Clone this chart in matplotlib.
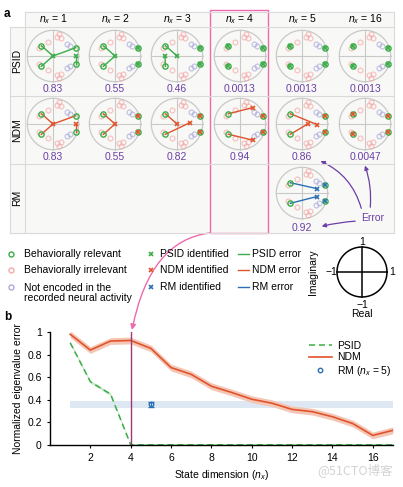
import numpy as np
import matplotlib.pyplot as plt
from matplotlib.patches import Rectangle, FancyArrowPatch
from matplotlib.path import Path
from matplotlib.lines import Line2D

plt.rcParams['font.family'] = ['Liberation Sans', 'DejaVu Sans']
plt.rcParams['mathtext.fontset'] = 'custom'
plt.rcParams['mathtext.rm'] = 'Liberation Sans'
plt.rcParams['mathtext.it'] = 'Liberation Sans:italic'

# ---- data: panel a ----
nx_cols = [1, 2, 3, 4, 5, 16]
psid_err = ['0.83', '0.55', '0.46', '0.0013', '0.0013', '0.0013']
ndm_err = ['0.83', '0.55', '0.82', '0.94', '0.86', '0.0047']
rm_err = '0.92'

relevant = [-0.45 + 0.40j, -0.45 - 0.40j, 0.88 + 0.32j, 0.88 - 0.32j]
irrelevant_top = [0.14 + 0.75j, 0.30 + 0.70j, 0.24 + 0.84j, -0.20 + 0.55j, -0.55 + 0.33j]
not_encoded_top = [0.56 + 0.47j, 0.65 + 0.38j]

# identified eigenvalues and, for each relevant eigenvalue, index of its match
psid_ids = [[0j, 0.88 + 0j], [0j, 0.88 + 0.32j, 0.88 - 0.32j],
            [-0.47 + 0j, 0j, 0.88 + 0.32j, 0.88 - 0.32j],
            relevant, relevant, relevant]
psid_match = [[0, 0, 0, 1], [0, 0, 1, 2], [1, 0, 2, 3],
              [0, 1, 2, 3], [0, 1, 2, 3], [0, 1, 2, 3]]
ndm_ids = [[0j, 0.88 + 0j], [0j, 0.88 + 0.32j, 0.88 - 0.32j],
           [0j, 0.50 + 0.05j, 0.88 + 0.32j, 0.88 - 0.32j],
           [0.50 + 0.64j, 0.50 - 0.63j, 0.88 + 0.32j, 0.88 - 0.32j],
           [0.58 - 0.02j, 0.22 + 0j, 0.88 + 0.32j, 0.88 - 0.32j],
           relevant]
ndm_match = [[0, 0, 0, 1], [0, 0, 1, 2], [0, 1, 2, 3],
             [0, 1, 2, 3], [0, 1, 2, 3], [0, 1, 2, 3]]
rm_ids = [0.58 + 0.17j, 0.57 - 0.14j, 0.88 + 0.32j, 0.88 - 0.32j]
rm_match = [0, 1, 2, 3]

# ---- data: panel b ----
state_dim = np.arange(1, 18)
ndm_curve = [0.98, 0.84, 0.92, 0.925, 0.855, 0.685, 0.625, 0.52, 0.465, 0.405,
             0.37, 0.315, 0.295, 0.25, 0.19, 0.085, 0.13]
psid_curve = [0.905, 0.56, 0.45, 0.0013, 0.0013, 0.0013, 0.0013, 0.0013, 0.0013,
              0.0013, 0.0013, 0.0013, 0.0013, 0.0013, 0.0013, 0.0013, 0.0013]
rm_point, rm_sd = 0.36, 0.02
rm_band = (0.33, 0.39)

GREEN = '#3aad46'
RED = '#e0532b'
BLUE = '#2b6fb6'
PURPLE = '#6b3fa6'
PINK = '#ee6aab'
GRID = '#c9c9c9'

W, H = 403, 487
fig = plt.figure(figsize=(W / 100, H / 100), dpi=100)

ov = fig.add_axes([0, 0, 1, 1])
ov.set_xlim(0, W)
ov.set_ylim(H, 0)
ov.axis('off')
ov.patch.set_alpha(0)

# table frame
ov.add_patch(Rectangle((10, 27), 384, 206, facecolor='#f8f8f6', edgecolor='none'))
ov.add_patch(Rectangle((25, 12), 369, 15, facecolor='#f8f8f6', edgecolor='none'))
for yy in [27, 96, 164, 233]:
    ov.plot([10, 394], [yy, yy], color='#dadada', lw=0.8)
ov.plot([25, 394], [12, 12], color='#dadada', lw=0.8)
ov.plot([25, 25], [12, 233], color='#dadada', lw=0.8)
ov.plot([10, 10], [27, 233], color='#dadada', lw=0.8)
ov.plot([394, 394], [12, 233], color='#dadada', lw=0.8)
ov.add_patch(Rectangle((210, 10), 58, 223, facecolor='none', edgecolor=PINK, lw=1))

ov.text(4, 14, 'a', fontsize=8.5, fontweight='bold', va='center')
ov.text(4, 317, 'b', fontsize=8.5, fontweight='bold', va='center')

col_x = [53, 115, 177, 240, 302, 365]
row_y = [56, 124, 193]
for lab, yy in zip(['PSID', 'NDM', 'RM'], [61, 130, 198]):
    ov.text(17.5, yy, lab, rotation=90, ha='center', va='center', fontsize=7.5)
for cx, n in zip(col_x, nx_cols):
    ov.text(cx, 19.5, r'$n_x$ = %d' % n, ha='center', va='center', fontsize=7.5)

theta = np.linspace(0, 2 * np.pi, 200)
irr = np.array(irrelevant_top + [np.conj(z) for z in irrelevant_top])
nen = np.array(not_encoded_top + [np.conj(z) for z in not_encoded_top])
rel = np.array(relevant)


def draw_cell(cx, cy, ids, match, color):
    r = 28
    ax = fig.add_axes([(cx - r) / W, 1 - (cy + r) / H, 2 * r / W, 2 * r / H])
    ax.set_xlim(-1.09, 1.09)
    ax.set_ylim(-1.09, 1.09)
    ax.axis('off')
    ax.patch.set_alpha(0)
    ax.plot(np.cos(theta), np.sin(theta), color=GRID, lw=0.9)
    ax.plot([-1, 1], [0, 0], color=GRID, lw=0.8)
    ax.plot([0, 0], [-1, 1], color=GRID, lw=0.8)
    ax.plot(irr.real, irr.imag, 'o', ms=3.5, mfc='none', mec='#f4aaaa', mew=0.8, alpha=0.75)
    ax.plot(nen.real, nen.imag, 'o', ms=3.5, mfc='none', mec='#aaaadb', mew=0.8, alpha=0.75)
    for i, j in enumerate(match):
        a, b = relevant[i], ids[j]
        if abs(a - b) > 1e-6:
            ax.plot([a.real, b.real], [a.imag, b.imag], color=color, lw=1)
    ax.plot(rel.real, rel.imag, 'o', ms=3.8, mfc='none', mec=GREEN, mew=1)
    idv = np.array(ids, dtype=complex)
    ax.plot(idv.real, idv.imag, 'x', ms=3.3, mew=1.2, color=color)


for k in range(6):
    draw_cell(col_x[k], row_y[0], psid_ids[k], psid_match[k], GREEN)
    ov.text(col_x[k], row_y[0] + 33, psid_err[k], color=PURPLE, ha='center', va='center', fontsize=7.5)
    draw_cell(col_x[k], row_y[1], ndm_ids[k], ndm_match[k], RED)
    ov.text(col_x[k], row_y[1] + 33, ndm_err[k], color=PURPLE, ha='center', va='center', fontsize=7.5)
draw_cell(col_x[4], row_y[2], rm_ids, rm_match, BLUE)
ov.text(col_x[4], 228, rm_err, color=PURPLE, ha='center', va='center', fontsize=7.5)

# Error annotations
ov.text(373, 218, 'Error', color=PURPLE, ha='center', va='center', fontsize=7.5)
for (x0, y0), (x1, y1), rad in [((362, 211), (318, 160), 0.25),
                               ((370, 210), (364, 163), 0.12),
                               ((358, 221), (319, 227), 0.05)]:
    ov.add_patch(FancyArrowPatch((x0, y0), (x1, y1), connectionstyle='arc3,rad=%s' % rad,
                                 arrowstyle='-|>', mutation_scale=6, color=PURPLE, lw=0.9))

# pink connector from panel a column to panel b
pth = Path([(210, 233), (150, 240), (132, 330)], [Path.MOVETO, Path.CURVE3, Path.CURVE3])
ov.add_patch(FancyArrowPatch(path=pth, arrowstyle='-|>', mutation_scale=8, color=PINK, lw=1))

# legend of panel a
leg_y = [254, 270, 287]
fs = 7.5
ov.plot(11, leg_y[0], 'o', ms=3.6, mfc='none', mec=GREEN, mew=1)
ov.plot(11, leg_y[1], 'o', ms=3.6, mfc='none', mec='#f4aaaa', mew=1)
ov.plot(11, leg_y[2], 'o', ms=3.6, mfc='none', mec='#aaaadb', mew=1)
ov.text(24, leg_y[0], 'Behaviorally relevant', va='center', fontsize=fs)
ov.text(24, leg_y[1], 'Behaviorally irrelevant', va='center', fontsize=fs)
ov.text(24, leg_y[2] + 6, 'Not encoded in the\nrecorded neural activity', va='center',
        fontsize=fs, linespacing=1.1)
for yy, c, t in zip(leg_y, [GREEN, RED, BLUE], ['PSID identified', 'NDM identified', 'RM identified']):
    ov.plot(151, yy, 'x', ms=3.4, mew=1.2, color=c)
    ov.text(160, yy, t, va='center', fontsize=fs)
for yy, c, t in zip(leg_y, [GREEN, RED, BLUE], ['PSID error', 'NDM error', 'RM error']):
    ov.plot([238, 249], [yy, yy], color=c, lw=1)
    ov.text(252, yy, t, va='center', fontsize=fs)

# unit circle key
uc = fig.add_axes([(362 - 27) / W, 1 - (272 + 27) / H, 54 / W, 54 / H])
uc.set_xlim(-1.08, 1.08)
uc.set_ylim(-1.08, 1.08)
uc.axis('off')
uc.patch.set_alpha(0)
uc.plot(np.cos(theta), np.sin(theta), color='black', lw=1.1)
uc.plot([-1, 1], [0, 0], color='black', lw=1.1)
uc.plot([0, 0], [-1, 1], color='black', lw=1.1)
ov.text(362, 242, '1', ha='center', va='center', fontsize=fs)
ov.text(362, 305, '\u22121', ha='center', va='center', fontsize=fs)
ov.text(331, 272, '\u22121', ha='center', va='center', fontsize=fs)
ov.text(392, 272, '1', ha='center', va='center', fontsize=fs)
ov.text(313, 272, 'Imaginary', rotation=90, ha='center', va='center', fontsize=fs)
ov.text(362, 314, 'Real', ha='center', va='center', fontsize=fs)

# ---- panel b ----
ax = fig.add_axes([50 / W, 1 - 445 / H, 343 / W, 113 / H])
ax.patch.set_alpha(0)
ax.fill_between([1, 17], rm_band[0], rm_band[1], color='#dde8f3', lw=0)
ndm = np.array(ndm_curve)
psid = np.array(psid_curve)
ax.fill_between(state_dim, ndm - 0.03, ndm + 0.03, color='#f4c6b6', lw=0)
ax.fill_between(state_dim, np.clip(psid - 0.012, 0, None), psid + 0.012, color='#c7e8c9', lw=0)
ax.plot(state_dim, ndm, color=RED, lw=1.2)
ax.plot(state_dim, psid, color=GREEN, lw=1.1, dashes=(4, 2.5))
ax.errorbar([5], [rm_point], yerr=[rm_sd], fmt='o', ms=3.2, mfc='none', mec=BLUE,
            ecolor=BLUE, mew=1, capsize=2, elinewidth=0.9)
ax.plot([4, 4], [0, 1], color='#9b3a73', lw=1)
ax.set_xlim(0, 17)
ax.set_ylim(0, 1)
ax.set_xticks([2, 4, 6, 8, 10, 12, 14, 16])
ax.set_yticks([0, 0.2, 0.4, 0.6, 0.8, 1])
ax.set_yticklabels(['0', '0.2', '0.4', '0.6', '0.8', '1'])
ax.tick_params(labelsize=7.5, length=2, width=0.8, pad=4)
for s in ['top', 'right']:
    ax.spines[s].set_visible(False)
for s in ['left', 'bottom']:
    ax.spines[s].set_linewidth(1)
ax.set_xlabel(r'State dimension ($n_x$)', fontsize=7.5, labelpad=3)
ax.set_ylabel('Normalized eigenvalue error', fontsize=7.5, labelpad=3)

handles = [Line2D([], [], color=GREEN, lw=1.1, dashes=(4, 2.5)),
           Line2D([], [], color=RED, lw=1.2),
           Line2D([], [], ls='none', marker='o', ms=3.2, mfc='none', mec=BLUE, mew=1)]
ax.legend(handles, ['PSID', 'NDM', r'RM ($n_x$ = 5)'], loc='upper left',
          bbox_to_anchor=(0.74, 0.97), frameon=False, fontsize=7.5,
          handlelength=2.2, handletextpad=0.5, labelspacing=0.15, borderpad=0)

ov.text(393, 470, '@51CTO博客', ha='right', va='center', color='#d2d2d2', fontsize=9,
        family=['Noto Sans CJK SC', 'DejaVu Sans'])

fig.savefig('out.png', dpi=100)
